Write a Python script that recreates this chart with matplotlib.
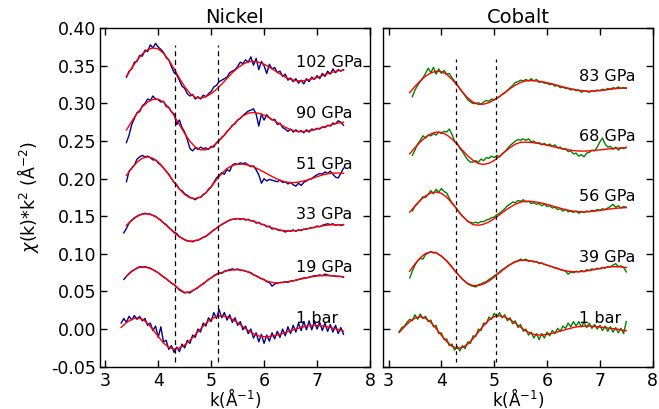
import numpy as np
import matplotlib
matplotlib.use('Agg')
import matplotlib.pyplot as plt

# k grids: data sampled every 0.05, fits every 0.1 (A^-1)
data_step = 0.05
fit_step = 0.1

# ---------------- Nickel ----------------
ni_labels = ['102 GPa', '90 GPa', '51 GPa', '33 GPa', '19 GPa', '1 bar']
ni_label_y = [0.355, 0.287, 0.219, 0.152, 0.082, 0.014]
ni_data_start = [3.40, 3.40, 3.40, 3.35, 3.35, 3.30]
ni_fit_start = [3.4, 3.4, 3.4, 3.4, 3.4, 3.3]
ni_dashes = [4.32, 5.13]

ni_102_data = [.335, .343, .346, .355, .356, .364, .363, .371, .369, .378,
               .374, .380, .375, .372, .368, .361, .358, .349, .341, .338,
               .331, .323, .320, .313, .310, .312, .306, .309, .306, .311,
               .309, .313, .316, .322, .324, .329, .331, .333, .335, .341,
               .343, .345, .349, .355, .353, .358, .355, .362, .351, .360,
               .345, .356, .350, .340, .352, .346, .348, .341, .343, .336,
               .339, .331, .334, .329, .333, .327, .331, .326, .333, .329,
               .335, .332, .337, .333, .340, .336, .343, .339, .346, .341,
               .345, .343, .345]
ni_102_fit = [.3360, .3473, .3576, .3659, .3715, .3739, .3726, .3669, .3578, .3461,
              .3337, .3224, .3134, .3081, .3071, .3090, .3130, .3188, .3258, .3334,
              .3409, .3473, .3522, .3553, .3560, .3548, .3522, .3484, .3439, .3394,
              .3352, .3321, .3303, .3301, .3309, .3325, .3346, .3371, .3396, .3418,
              .3435, .3444]

ni_90_data = [.248, .258, .272, .280, .288, .289, .297, .300, .306, .304,
              .310, .306, .305, .302, .303, .296, .295, .289, .286, .272,
              .278, .268, .262, .252, .240, .237, .241, .239, .242, .240,
              .241, .239, .243, .242, .248, .251, .255, .258, .263, .266,
              .271, .273, .278, .280, .284, .287, .290, .291, .293, .286,
              .270, .286, .278, .285, .281, .278, .279, .272, .274, .268,
              .266, .263, .266, .262, .265, .262, .264, .261, .265, .262,
              .266, .265, .267, .266, .269, .268, .271, .270, .274, .273,
              .277, .275, .271]
ni_90_fit = [.2647, .2762, .2867, .2956, .3019, .3054, .3057, .3019, .2942, .2839,
             .2720, .2601, .2498, .2421, .2383, .2385, .2415, .2469, .2540, .2622,
             .2704, .2778, .2836, .2871, .2880, .2869, .2845, .2810, .2768, .2725,
             .2685, .2652, .2632, .2626, .2631, .2642, .2660, .2681, .2703, .2723,
             .2740, .2751]

ni_51_data = [.196, .210, .214, .218, .226, .229, .231, .229, .230, .228,
              .225, .225, .221, .218, .214, .210, .206, .200, .195, .192,
              .186, .184, .180, .178, .175, .174, .172, .175, .175, .179,
              .181, .186, .189, .195, .201, .204, .208, .206, .212, .210,
              .218, .220, .219, .221, .220, .221, .218, .216, .217, .212,
              .205, .194, .200, .197, .199, .198, .197, .196, .198, .195,
              .196, .193, .195, .192, .190, .194, .191, .195, .197, .199,
              .200, .203, .205, .207, .206, .209, .207, .210, .206, .202,
              .201, .207, .214]
ni_51_fit = [.2044, .2140, .2220, .2272, .2290, .2272, .2223, .2146, .2052, .1954,
             .1863, .1790, .1746, .1735, .1755, .1810, .1890, .1985, .2070, .2135,
             .2175, .2192, .2194, .2181, .2157, .2125, .2087, .2048, .2011, .1980,
             .1959, .1948, .1950, .1961, .1979, .2002, .2026, .2049, .2065, .2074,
             .2075, .2072]

ni_33_data = [.128, .134, .141, .145, .148, .150, .152, .153, .154, .153,
              .153, .151, .150, .147, .145, .141, .139, .135, .132, .129,
              .127, .123, .121, .119, .117, .117, .116, .118, .118, .120,
              .122, .123, .126, .129, .132, .134, .137, .139, .141, .143,
              .145, .146, .146, .147, .146, .147, .145, .146, .144, .144,
              .141, .142, .139, .139, .136, .137, .133, .134, .132, .131,
              .131, .129, .131, .130, .132, .130, .132, .131, .133, .133,
              .134, .135, .135, .137, .136, .138, .139, .140, .139, .140,
              .138, .139, .138, .139]
ni_33_fit = [.1380, .1446, .1498, .1529, .1534, .1514, .1472, .1415, .1348, .1282,
             .1227, .1186, .1168, .1174, .1198, .1237, .1287, .1340, .1391, .1433,
             .1460, .1470, .1466, .1453, .1434, .1410, .1384, .1357, .1335, .1318,
             .1307, .1305, .1309, .1318, .1331, .1345, .1360, .1372, .1382, .1387,
             .1388, .1386]

ni_19_data = [.066, .070, .074, .077, .079, .081, .083, .082, .083, .082,
              .081, .079, .077, .075, .072, .069, .067, .064, .061, .059,
              .056, .052, .050, .048, .049, .048, .051, .053, .055, .058,
              .060, .063, .066, .068, .071, .073, .075, .074, .077, .078,
              .079, .080, .079, .080, .078, .078, .077, .076, .075, .072,
              .071, .069, .067, .066, .063, .062, .057, .060, .061, .062,
              .062, .063, .062, .064, .064, .065, .066, .067, .068, .068,
              .069, .070, .071, .071, .072, .071, .073, .072, .071, .071,
              .070, .070, .070, .069]
ni_19_fit = [.0703, .0767, .0811, .0827, .0817, .0790, .0748, .0697, .0641, .0588,
             .0530, .0488, .0494, .0530, .0580, .0633, .0683, .0722, .0752, .0774,
             .0786, .0790, .0782, .0759, .0725, .0687, .0652, .0627, .0615, .0617,
             .0624, .0635, .0650, .0666, .0682, .0696, .0706, .0711, .0711, .0708,
             .0703, .0697]

ni_1_data = [.008, .014, .009, .017, .012, .018, .013, .017, .011, .014,
             .005, .008, -.002, .004, -.011, .003, -.017, -.015, -.027, -.022,
             -.031, -.024, -.030, -.020, -.025, -.015, -.019, -.008, -.011, .000,
             -.004, .008, .004, .015, .010, .022, .014, .026, .015, .022,
             .012, .019, .009, .015, .005, .010, -.001, .004, -.006, .000,
             -.012, -.005, -.017, -.007, -.019, -.008, -.016, -.005, -.013, -.003,
             -.011, .000, -.009, .003, -.006, .005, -.004, .008, -.002, .010,
             -.001, .011, -.001, .010, .000, .009, -.002, .008, -.003, .006,
             -.004, .005, -.006, .002, -.007]
ni_1_fit = [.0023, .0086, .0131, .0150, .0133, .0077, -.0006, -.0099, -.0185, -.0244,
            -.0265, -.0251, -.0212, -.0150, -.0075, .0003, .0075, .0133, .0168, .0177,
            .0163, .0131, .0085, .0032, -.0020, -.0063, -.0092, -.0102, -.0098, -.0087,
            -.0069, -.0047, -.0023, .0001, .0022, .0038, .0047, .0048, .0041, .0029,
            .0013, -.0006, -.0027]

# ---------------- Cobalt ----------------
co_labels = ['83 GPa', '68 GPa', '56 GPa', '39 GPa', '1 bar']
co_label_y = [0.336, 0.256, 0.176, 0.0955, 0.014]
co_data_start = [3.45, 3.45, 3.45, 3.40, 3.20]
co_fit_start = [3.4, 3.4, 3.4, 3.4, 3.2]
co_dashes = [4.28, 5.03]

co_83_data = [.309, .318, .324, .329, .334, .340, .347, .341, .348, .339,
              .346, .340, .344, .339, .340, .334, .330, .325, .320, .315,
              .310, .305, .302, .300, .300, .301, .299, .302, .304, .303,
              .306, .305, .307, .309, .312, .314, .317, .321, .324, .328,
              .329, .331, .330, .332, .330, .333, .330, .332, .328, .329,
              .327, .327, .325, .326, .323, .324, .321, .322, .320, .320,
              .318, .319, .317, .318, .315, .317, .316, .315, .317, .316,
              .318, .317, .319, .318, .320, .319, .321, .320, .322, .320,
              .321, .320]
co_83_fit = [.3145, .3227, .3301, .3363, .3407, .3429, .3424, .3387, .3323, .3239,
             .3152, .3073, .3017, .2989, .2991, .3012, .3048, .3094, .3146, .3198,
             .3244, .3280, .3301, .3305, .3300, .3291, .3277, .3260, .3241, .3222,
             .3204, .3188, .3175, .3167, .3164, .3166, .3172, .3180, .3189, .3198,
             .3204, .3208]

co_68_data = [.231, .238, .246, .251, .257, .254, .258, .257, .260, .258,
              .262, .260, .263, .262, .266, .259, .250, .247, .240, .236,
              .230, .225, .222, .222, .224, .222, .226, .224, .228, .227,
              .230, .228, .231, .229, .233, .236, .240, .244, .247, .250,
              .252, .251, .253, .251, .253, .249, .250, .247, .248, .245,
              .247, .244, .246, .243, .245, .241, .242, .239, .240, .236,
              .237, .233, .234, .230, .232, .229, .234, .235, .238, .237,
              .242, .249, .254, .246, .242, .243, .239, .242, .238, .241,
              .240, .242]
co_68_fit = [.2330, .2413, .2489, .2552, .2596, .2619, .2615, .2583, .2528, .2457,
             .2377, .2303, .2243, .2202, .2190, .2205, .2242, .2296, .2357, .2414,
             .2459, .2484, .2486, .2482, .2473, .2460, .2446, .2429, .2413, .2397,
             .2385, .2374, .2368, .2367, .2370, .2376, .2383, .2391, .2398, .2405,
             .2409, .2412]

co_56_data = [.157, .163, .167, .171, .176, .175, .179, .184, .180, .186,
              .182, .187, .183, .181, .174, .168, .164, .159, .154, .150,
              .147, .143, .142, .141, .142, .141, .143, .143, .145, .146,
              .148, .149, .152, .154, .157, .160, .164, .166, .169, .168,
              .171, .170, .172, .169, .170, .167, .168, .166, .167, .164,
              .166, .163, .164, .161, .162, .159, .160, .157, .159, .156,
              .157, .155, .157, .154, .156, .155, .157, .156, .158, .157,
              .159, .158, .160, .159, .161, .163, .166, .162, .164, .161,
              .163, .162]
co_56_fit = [.1555, .1638, .1713, .1772, .1810, .1823, .1805, .1753, .1676, .1588,
             .1501, .1433, .1389, .1381, .1395, .1425, .1468, .1519, .1572, .1620,
             .1660, .1689, .1700, .1698, .1689, .1676, .1658, .1638, .1618, .1598,
             .1581, .1568, .1560, .1558, .1562, .1569, .1578, .1588, .1598, .1606,
             .1612, .1615]

co_39_data = [.068, .077, .085, .091, .094, .093, .099, .101, .103, .101,
              .102, .099, .097, .094, .091, .087, .083, .078, .074, .070,
              .066, .063, .060, .058, .057, .056, .059, .060, .062, .063,
              .066, .068, .071, .073, .076, .079, .081, .084, .086, .088,
              .090, .091, .093, .091, .093, .090, .091, .089, .090, .087,
              .088, .086, .085, .084, .083, .081, .081, .079, .078, .077,
              .073, .076, .075, .077, .076, .078, .076, .079, .078, .080,
              .079, .081, .080, .082, .081, .083, .083, .085, .087, .083,
              .084, .082, .076]
co_39_fit = [.0770, .0866, .0948, .1005, .1027, .1014, .0971, .0904, .0822, .0738,
             .0664, .0606, .0578, .0579, .0600, .0639, .0691, .0748, .0806, .0855,
             .0893, .0914, .0915, .0908, .0893, .0874, .0851, .0826, .0803, .0784,
             .0769, .0762, .0762, .0768, .0778, .0792, .0806, .0819, .0827, .0830,
             .0826, .0818]

co_1_data = [-.004, .002, .004, .009, .013, .011, .019, .013, .020, .014,
             .017, .010, .012, .003, .005, -.006, -.005, -.014, -.013, -.022,
             -.020, -.028, -.023, -.029, -.022, -.026, -.017, -.019, -.009, -.010,
             .000, -.002, .008, .007, .016, .013, .021, .016, .022, .015,
             .019, .011, .015, .007, .011, .002, .006, -.003, .000, -.008,
             -.004, -.012, -.006, -.014, -.006, -.012, -.004, -.009, -.002, -.006,
             .001, -.003, .004, .001, .008, .003, .010, .004, .010, .003,
             .009, .002, .008, .001, .006, .000, .005, -.002, .004, -.003,
             .003, -.004, .002, -.005, .001, -.006, .010]
co_1_fit = [-.0045, .0030, .0100, .0147, .0164, .0144, .0090, .0008, -.0083, -.0167,
            -.0229, -.0256, -.0245, -.0200, -.0127, -.0040, .0047, .0120, .0165, .0177,
            .0161, .0126, .0078, .0024, -.0025, -.0062, -.0079, -.0078, -.0070, -.0056,
            -.0037, -.0017, .0003, .0021, .0033, .0039, .0039, .0035, .0028, .0019,
            .0010, .0001, -.0010, -.0022]

ni_data = [ni_102_data, ni_90_data, ni_51_data, ni_33_data, ni_19_data, ni_1_data]
ni_fit = [ni_102_fit, ni_90_fit, ni_51_fit, ni_33_fit, ni_19_fit, ni_1_fit]
co_data = [co_83_data, co_68_data, co_56_data, co_39_data, co_1_data]
co_fit = [co_83_fit, co_68_fit, co_56_fit, co_39_fit, co_1_fit]

yticks = [-0.05, 0.00, 0.05, 0.10, 0.15, 0.20, 0.25, 0.30, 0.35, 0.40]
xticks = [3, 4, 5, 6, 7, 8]


def k_axis(start, n, step):
    return start + step * np.arange(n)


def draw_panel(ax, title, data, fits, dstarts, fstarts, labels, label_y,
               dashes, dash_top, data_color, dash_style):
    for vals, st in zip(data, dstarts):
        ax.plot(k_axis(st, len(vals), data_step), vals, color=data_color, lw=1.0)
    for vals, st in zip(fits, fstarts):
        ax.plot(k_axis(st, len(vals), fit_step), vals, color='red', lw=1.0)
    ax.vlines(dashes, -0.044, dash_top, colors='black', linestyles=dash_style, lw=0.9)
    for lab, y in zip(labels, label_y):
        ax.text(6.6, y, lab, fontsize=11.5, ha='left', va='center')
    ax.set_xlim(2.9, 8.0)
    ax.set_ylim(-0.05, 0.40)
    ax.set_xticks(xticks)
    ax.set_yticks(yticks)
    ax.set_title(title, fontsize=14, pad=4)
    ax.set_xlabel(r'k($\mathrm{\AA}^{-1}$)', fontsize=12, labelpad=-2.5)
    ax.tick_params(direction='in', top=True, right=True, length=5, width=1,
                   labelsize=12.5)
    ax.tick_params(axis='x', pad=3.5)
    ax.tick_params(axis='y', pad=2.5)
    for sp in ax.spines.values():
        sp.set_linewidth(1.0)


fig = plt.figure(figsize=(6.59, 4.09), dpi=100)
ax1 = fig.add_axes([0.1517, 0.1035, 0.4097, 0.8273])
ax2 = fig.add_axes([0.5816, 0.1035, 0.4088, 0.8273])

draw_panel(ax1, 'Nickel', ni_data, ni_fit, ni_data_start, ni_fit_start,
           ni_labels, ni_label_y, ni_dashes, 0.378, 'darkblue', (0, (4, 3)))
draw_panel(ax2, 'Cobalt', co_data, co_fit, co_data_start, co_fit_start,
           co_labels, co_label_y, co_dashes, 0.359, 'green', (0, (3, 3)))

ax1.yaxis.set_major_formatter(matplotlib.ticker.FormatStrFormatter('%.2f'))
ax1.set_ylabel(r'$\chi$(k)*k$^2$ ($\mathrm{\AA}^{-2}$)', fontsize=12.5, labelpad=8)
ax2.tick_params(axis='y', labelleft=False)

fig.savefig('out.png', dpi=100)
